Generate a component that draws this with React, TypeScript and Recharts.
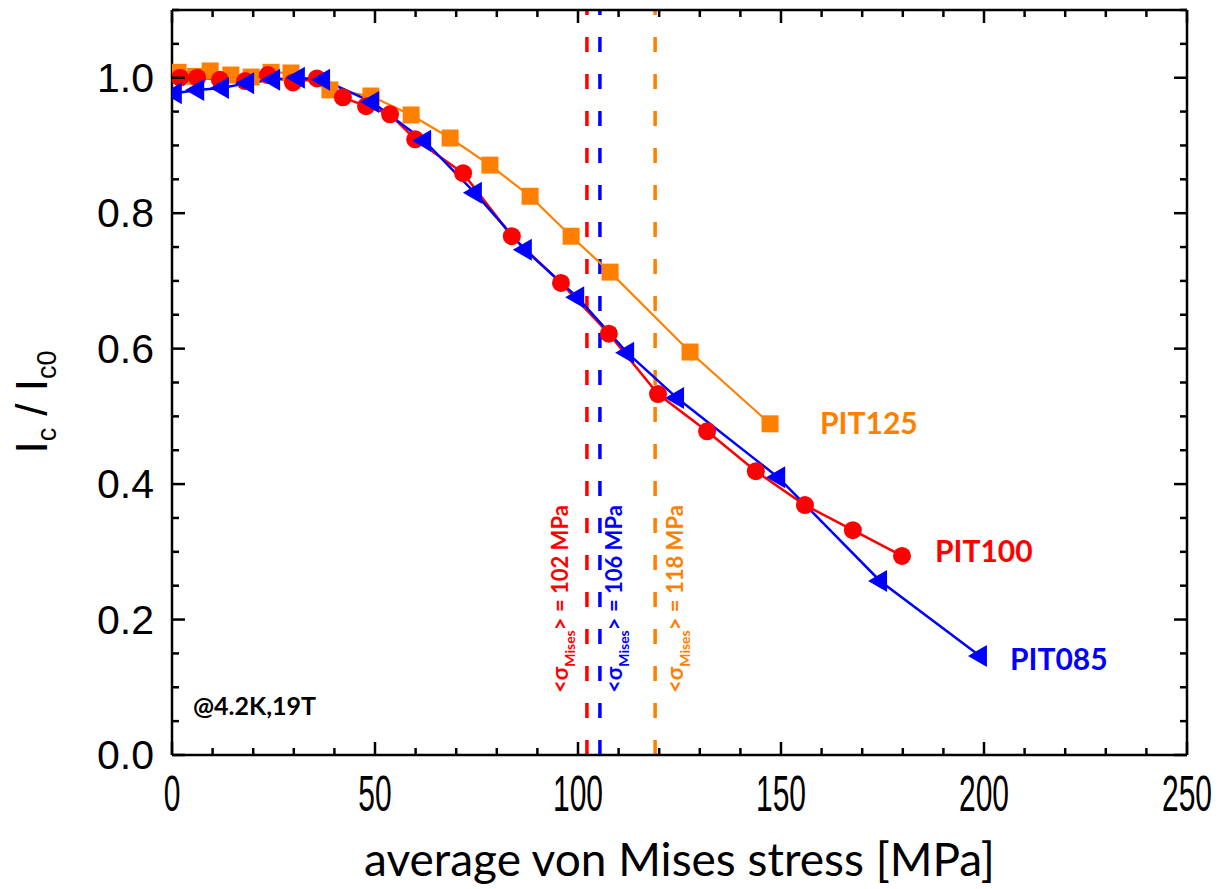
import { LineChart, Line, XAxis, YAxis, ReferenceLine, Label } from 'recharts';

// PIT125 (orange squares)
const pit125Stress = [1.5, 5.8, 9.4, 14.5, 19.5, 24.4, 29.3, 38.9, 49.0, 58.9, 68.5, 78.3, 88.2, 98.3, 107.9, 127.6, 147.3];
const pit125Ic = [1.008, 1.002, 1.010, 1.004, 1.001, 1.008, 1.007, 0.982, 0.973, 0.945, 0.911, 0.871, 0.825, 0.766, 0.713, 0.595, 0.489];

// PIT100 (red circles)
const pit100Stress = [2.0, 6.2, 11.8, 18.0, 23.6, 29.8, 35.7, 42.1, 47.8, 53.7, 59.9, 71.7, 83.7, 95.8, 107.6, 119.7, 131.8, 143.8, 155.9, 167.7, 179.8];
const pit100Ic = [1.0, 1.0, 0.997, 0.995, 1.004, 0.993, 0.999, 0.971, 0.958, 0.946, 0.909, 0.859, 0.766, 0.697, 0.622, 0.533, 0.478, 0.419, 0.369, 0.332, 0.294];

// PIT085 (blue triangles)
const pit085Stress = [0.7, 6.2, 12.3, 18.5, 24.9, 31.0, 37.2, 49.3, 62.1, 74.6, 86.9, 99.8, 112.1, 124.4, 149.3, 174.4, 199.0];
const pit085Ic = [0.977, 0.982, 0.985, 0.992, 0.997, 1.0, 0.997, 0.964, 0.907, 0.830, 0.746, 0.676, 0.594, 0.527, 0.410, 0.257, 0.146];

// average von Mises stress markers
const misesValues = [102.2, 105.4, 119.0];
const misesLabels = ['102 MPa', '106 MPa', '118 MPa'];

const xTicks = [0, 10, 20, 30, 40, 50, 60, 70, 80, 90, 100, 110, 120, 130, 140, 150, 160, 170, 180, 190, 200, 210, 220, 230, 240, 250];
const xTickLabels = [0, 50, 100, 150, 200, 250];
const yTicks = [0, 0.05, 0.1, 0.15, 0.2, 0.25, 0.3, 0.35, 0.4, 0.45, 0.5, 0.55, 0.6, 0.65, 0.7, 0.75, 0.8, 0.85, 0.9, 0.95, 1.0, 1.05, 1.1];
const yTickLabels = ['0.0', '0.2', '0.4', '0.6', '0.8', '1.0'];

const ORANGE = '#FF8000';
const RED = '#FF0000';
const BLUE = '#0000FF';

const W = 1221;
const H = 889;
const PLOT = { left: 172, right: 1187, top: 10, bottom: 755 };

const pts = (xs: number[], ys: number[]) => xs.map((x, i) => ({ x, y: ys[i] }));
const pit125 = pts(pit125Stress, pit125Ic);
const pit100 = pts(pit100Stress, pit100Ic);
const pit085 = pts(pit085Stress, pit085Ic);

const isXMajor = (v: number) => xTickLabels.includes(v);
const yLabelOf = (v: number) => yTickLabels.find(l => Math.abs(parseFloat(l) - v) < 1e-6);

const BottomTick = (p: any) => {
  const v = p.payload.value;
  const major = isXMajor(v);
  return (
    <g>
      <line x1={p.x} x2={p.x} y1={PLOT.bottom} y2={PLOT.bottom - (major ? 13 : 7)} stroke="#000" strokeWidth={2.5} />
      {major && (
        <text transform={`translate(${p.x} ${PLOT.bottom + 39}) scale(0.6 1)`} textAnchor="middle" dominantBaseline="central"
          fontFamily="'Liberation Sans', Arial, sans-serif" fontSize={50} fill="#000">{v}</text>
      )}
    </g>
  );
};

const TopTick = (p: any) => {
  const major = isXMajor(p.payload.value);
  return <line x1={p.x} x2={p.x} y1={PLOT.top} y2={PLOT.top + (major ? 13 : 7)} stroke="#000" strokeWidth={2.5} />;
};

const LeftTick = (p: any) => {
  const lbl = yLabelOf(p.payload.value);
  return (
    <g>
      <line x1={PLOT.left} x2={PLOT.left + (lbl ? 13 : 7)} y1={p.y} y2={p.y} stroke="#000" strokeWidth={2.5} />
      {lbl && (
        <text x={PLOT.left - 18} y={p.y} textAnchor="end" dominantBaseline="central"
          fontFamily="'Liberation Sans', Arial, sans-serif" fontSize={41} fill="#000">{lbl}</text>
      )}
    </g>
  );
};

const RightTick = (p: any) => {
  const lbl = yLabelOf(p.payload.value);
  return <line x1={PLOT.right} x2={PLOT.right - (lbl ? 13 : 7)} y1={p.y} y2={p.y} stroke="#000" strokeWidth={2.5} />;
};

const squareDot = (p: any) => <rect key={p.index} x={p.cx - 8.5} y={p.cy - 8.5} width={17} height={17} fill={ORANGE} />;
const circleDot = (p: any) => <circle key={p.index} cx={p.cx} cy={p.cy} r={9} fill={RED} />;
const triDot = (p: any) => (
  <polygon key={p.index} points={`${p.cx - 12},${p.cy} ${p.cx + 7},${p.cy - 11} ${p.cx + 7},${p.cy + 11}`} fill={BLUE} />
);

const endLabel = (text: string, color: string, n: number, dx: number, dy: number) => (p: any) =>
  p.index === n - 1 ? (
    <text x={p.x + dx} y={p.y + dy} fill={color} fontFamily="Lato, sans-serif" fontWeight={700} fontSize={30} dominantBaseline="central">{text}</text>
  ) : <g />;

const sigmaLabel = (text: string, color: string, dx: number) => (p: any) => {
  const vb = p.viewBox;
  const bx = vb.x + dx;
  const by = vb.y + vb.height - 62;
  return (
    <text transform={`rotate(-90 ${bx} ${by})`} x={bx} y={by} fill={color} fontFamily="Lato, sans-serif" fontWeight={700} fontSize={22}>
      {'<σ'}
      <tspan fontSize={14} dy={7}>Mises</tspan>
      <tspan dy={-7}>{'> = ' + text}</tspan>
    </text>
  );
};

const YTitle = () => (
  <text transform="rotate(-90 47 402)" x={47} y={402} textAnchor="middle" fontFamily="'Liberation Sans', Arial, sans-serif" fontSize={44} fill="#000">
    I<tspan fontSize={27} dy={9}>c</tspan><tspan dy={-9}>{' / I'}</tspan><tspan fontSize={27} dy={9}>c0</tspan>
  </text>
);

const XTitle = (p: any) => {
  const vb = p.viewBox;
  return (
    <text x={vb.x + vb.width / 2} y={876} textAnchor="middle" fontFamily="Lato, sans-serif" fontSize={46} fill="#000">
      average von Mises stress [MPa]
    </text>
  );
};

const misesColors = [RED, BLUE, ORANGE];
const misesDx = [-19, 22, 28];

export default function App() {
  return (
    <div style={{ position: 'absolute', left: 0, top: 0, width: W, height: H, background: '#fff' }}>
      <LineChart width={W} height={H} margin={{ top: 9, right: 33, bottom: 74, left: 72 }}>
        <XAxis xAxisId="b" type="number" dataKey="x" domain={[0, 250]} ticks={xTicks} interval={0} height={60}
          axisLine={{ stroke: '#000', strokeWidth: 2.5 }} tickLine={false} tick={BottomTick} allowDataOverflow>
          <Label content={XTitle} />
        </XAxis>
        <XAxis xAxisId="t" orientation="top" type="number" dataKey="x" domain={[0, 250]} ticks={xTicks} interval={0} height={1}
          axisLine={{ stroke: '#000', strokeWidth: 2.5 }} tickLine={false} tick={TopTick} allowDataOverflow />
        <YAxis yAxisId="l" type="number" domain={[0, 1.1]} ticks={yTicks} interval={0} width={100}
          axisLine={{ stroke: '#000', strokeWidth: 2.5 }} tickLine={false} tick={LeftTick} allowDataOverflow>
          <Label content={YTitle} />
        </YAxis>
        <YAxis yAxisId="r" orientation="right" type="number" domain={[0, 1.1]} ticks={yTicks} interval={0} width={1}
          axisLine={{ stroke: '#000', strokeWidth: 2.5 }} tickLine={false} tick={RightTick} allowDataOverflow />

        {misesValues.map((v, i) => (
          <ReferenceLine key={v} x={v} xAxisId="b" yAxisId="l" stroke={misesColors[i]} strokeWidth={3.5} strokeDasharray="15 22"
            label={sigmaLabel(misesLabels[i], misesColors[i], misesDx[i])} />
        ))}

        <Line xAxisId="b" yAxisId="l" data={pit125} dataKey="y" type="linear" stroke={ORANGE} strokeWidth={2.2}
          dot={squareDot} activeDot={false} isAnimationActive={false}
          label={endLabel('PIT125', ORANGE, pit125.length, 50, -2)} />
        <Line xAxisId="b" yAxisId="l" data={pit100} dataKey="y" type="linear" stroke={RED} strokeWidth={2.5}
          dot={circleDot} activeDot={false} isAnimationActive={false}
          label={endLabel('PIT100', RED, pit100.length, 33, -6)} />
        <Line xAxisId="b" yAxisId="l" data={pit085} dataKey="y" type="linear" stroke={BLUE} strokeWidth={2.5}
          dot={triDot} activeDot={false} isAnimationActive={false}
          label={endLabel('PIT085', BLUE, pit085.length, 30, 2)} />
      </LineChart>
      <svg width={W} height={H} style={{ position: 'absolute', left: 0, top: 0, pointerEvents: 'none' }}>
        <text x={193} y={705} dominantBaseline="central" fontFamily="Lato, sans-serif" fontWeight={700} fontSize={25} fill="#000">@4.2K,19T</text>
      </svg>
    </div>
  );
}
